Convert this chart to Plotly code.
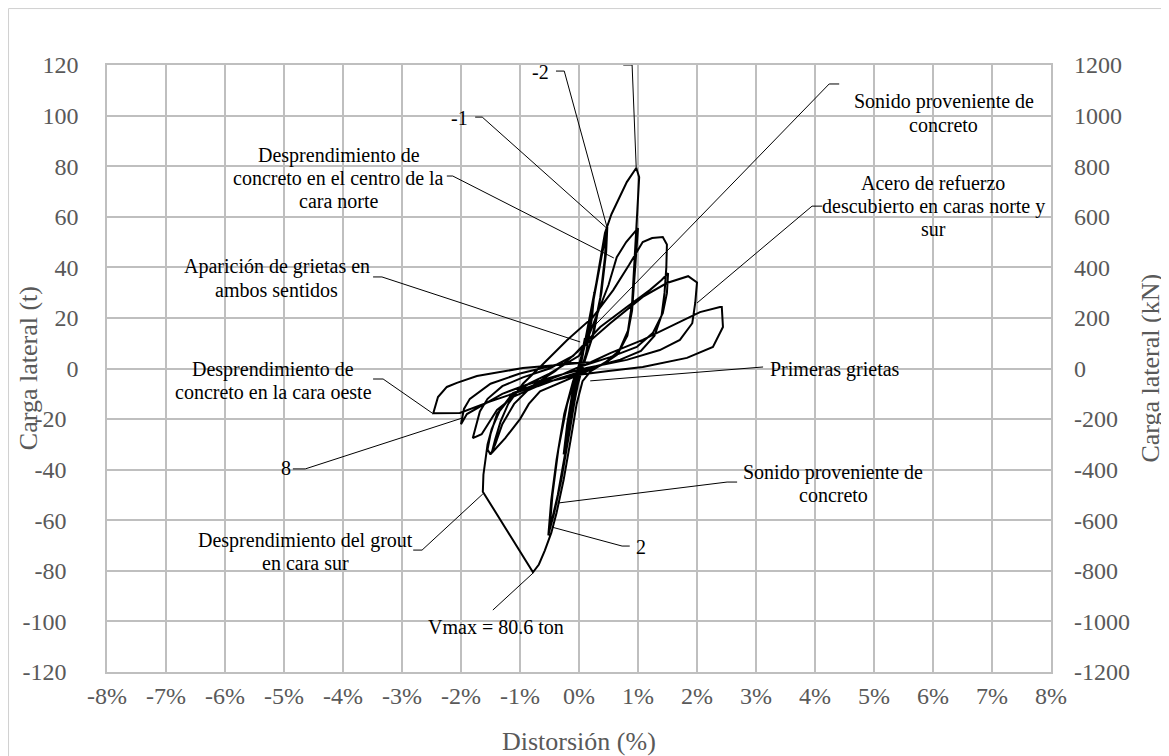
import plotly.graph_objects as go

# ---- hysteresis data: drift (%) vs lateral load (t), one list per cycle ----
cycle_01 = [(0.0, 0.0), (0.04, 5), (0.1, 12), (0.07, 6), (0.02, 0), (-0.04, -6),
            (-0.1, -13), (-0.07, -6), (-0.02, 0)]
cycle_025 = [(0.08, 8), (0.18, 20), (0.26, 30), (0.22, 20), (0.12, 6), (0.03, -1),
             (-0.08, -10), (-0.18, -24), (-0.26, -34), (-0.2, -22), (-0.1, -8), (0.0, 1)]
cycle_05a = [(0.1, 10), (0.22, 25), (0.35, 40), (0.48, 56), (0.46, 46), (0.38, 30),
             (0.25, 14), (0.1, 3), (0.0, -4), (-0.1, -16), (-0.22, -32), (-0.36, -50),
             (-0.52, -66), (-0.47, -52), (-0.38, -36), (-0.25, -18), (-0.1, -5), (0.02, 2)]
cycle_05b = [(0.12, 11), (0.25, 28), (0.38, 44), (0.46, 53), (0.44, 44), (0.36, 28),
             (0.22, 12), (0.08, 2), (-0.04, -8), (-0.16, -25), (-0.3, -44), (-0.42, -57),
             (-0.5, -64), (-0.45, -50), (-0.35, -32), (-0.2, -14), (-0.06, -3), (0.03, 3)]
cycle_1a = [(0.14, 14), (0.28, 32), (0.38, 46), (0.44, 53.6), (0.55, 61), (0.66, 66.6),
            (0.81, 73.7), (0.97, 79.3), (1.02, 75.7), (0.99, 63), (0.96, 50), (0.93, 38),
            (0.9, 26), (0.83, 15), (0.68, 7), (0.45, 2.5), (0.2, -1), (0.06, -5),
            (-0.04, -14), (-0.14, -28), (-0.26, -44), (-0.38, -57), (-0.47, -65),
            (-0.58, -72), (-0.68, -77.5), (-0.78, -80.6), (-1.63, -48.7), (-1.62, -42),
            (-1.59, -36), (-1.55, -30), (-1.48, -24), (-1.35, -17), (-1.15, -11),
            (-0.85, -6), (-0.5, -2), (-0.2, 2), (0.0, 5)]
cycle_1b = [(0.15, 12), (0.32, 22), (0.5, 33), (0.64, 44), (0.8, 50), (1.0, 55.5),
            (0.97, 45), (0.93, 34), (0.9, 23), (0.82, 13), (0.65, 5.5), (0.4, 1.5),
            (0.15, -1), (-0.05, -3), (-0.35, -6), (-0.66, -9), (-0.85, -14), (-1.0, -20),
            (-1.25, -27.5), (-1.48, -33.4), (-1.42, -28), (-1.33, -21), (-1.2, -14),
            (-0.95, -6), (-0.6, 2), (-0.2, 11.3)]
cycle_15a = [(0.24, 20.4), (0.58, 31), (0.85, 41), (1.08, 50), (1.24, 51.6), (1.42, 52),
             (1.49, 49), (1.48, 40), (1.45, 30), (1.4, 21), (1.28, 13), (1.05, 7),
             (0.7, 3.5), (0.3, 1), (0.0, -1.5), (-0.35, -4), (-0.7, -7), (-1.1, -11),
             (-1.39, -16.4), (-1.55, -22), (-1.65, -26), (-1.8, -27.5), (-1.74, -22),
             (-1.68, -17), (-1.55, -12), (-1.3, -7), (-0.95, -3.5), (-0.5, 0), (-0.1, 5)]
cycle_15b = [(0.36, 16.4), (0.81, 24.3), (1.2, 31), (1.4, 35), (1.51, 37.7), (1.49, 29.8),
             (1.42, 21.9), (1.25, 14), (0.98, 8.5), (0.53, 4.5), (0.0, 0.6), (-0.3, -2.5),
             (-0.66, -5.7), (-1.12, -9.7), (-1.39, -18), (-1.5, -26), (-1.55, -32),
             (-1.5, -34), (-1.42, -30), (-1.3, -22), (-1.1, -14), (-0.8, -7), (-0.4, -1),
             (0.0, 7.3)]
cycle_2 = [(0.53, 17.9), (1.08, 28.3), (1.49, 33.8), (1.85, 36.5), (2.0, 34), (1.97, 25.9),
           (1.92, 17.9), (1.71, 11.3), (1.37, 7.3), (0.81, 3.4), (0.13, 0.2), (-0.4, -3),
           (-0.9, -6.5), (-1.3, -10), (-1.6, -14), (-1.9, -18), (-2.0, -22), (-1.95, -16),
           (-1.85, -12), (-1.5, -6), (-1.0, -2), (-0.3, 2), (0.2, 2.5)]
cycle_25 = [(0.53, 6.1), (1.08, 11.3), (1.66, 17.9), (2.05, 22.3), (2.39, 24.3),
            (2.42, 24.3), (2.44, 16.4), (2.27, 8.5), (1.83, 4.2), (1.08, 0.6), (0.5, -1),
            (0.0, -2.5), (-0.5, -5), (-1.0, -9), (-1.5, -13), (-2.02, -17.6),
            (-2.47, -17.7), (-2.39, -11.3), (-2.24, -7.3), (-2.07, -5.7), (-1.73, -3.0),
            (-0.95, 0.2), (-0.3, 1.5), (0.02, 2.2)]

cycles = [cycle_01, cycle_025, cycle_05a, cycle_05b, cycle_1a, cycle_1b,
          cycle_15a, cycle_15b, cycle_2, cycle_25]

# ---- callouts: text, text centre (drift %, load t), leader polyline ----
label_texts = ["-2", "-1", "Desprendimiento de\nconcreto en el centro de la\ncara norte",
               "Aparición de grietas en\nambos sentidos",
               "Desprendimiento de\nconcreto en la cara oeste", "8",
               "Desprendimiento del grout\nen cara sur", "Vmax = 80.6 ton", "2",
               "Sonido proveniente de\nconcreto", "Sonido proveniente de\nconcreto",
               "Acero de refuerzo\ndescubierto en caras norte y\nsur", "Primeras grietas"]
label_x = [-0.66, -2.02, -4.07, -5.12, -5.18, -4.97, -4.63, -1.41, 1.05, 4.31, 6.18, 6.0, 4.34]
label_y = [117.2, 99.0, 75.3, 35.6, -4.75, -39.3, -72.4, -102.2, -70.6, -45.5, 100.9, 64.2, -0.2]

leaders = [
    [(-0.39, 117.6), (-0.25, 117.6), (0.47, 56.3)],
    [(0.75, 120), (0.9, 120), (0.97, 79.3)],
    [(-1.76, 99.4), (-1.64, 99.4), (0.47, 55.5)],
    [(-2.24, 76.1), (-2.14, 76.1), (0.59, 43.7)],
    [(-3.49, 36.2), (-3.34, 36.2), (0.02, 10.5)],
    [(-3.49, -4.15), (-3.32, -4.15), (-2.49, -17.6)],
    [(-4.85, -39.7), (-4.64, -39.7), (-1.98, -19.6)],
    [(-2.81, -71.8), (-2.66, -71.8), (-1.63, -49.6)],
    [(-1.46, -95.5), (-0.78, -80.9)],
    [(0.86, -70.2), (0.73, -70.2), (-0.46, -62.7)],
    [(2.68, -44.9), (2.51, -44.9), (-0.36, -53.2)],
    [(4.41, 112.5), (4.24, 112.5), (0.19, 15.2)],
    [(4.12, 64.2), (3.95, 64.2), (2.0, 25.9)],
    [(3.12, 0.6), (0.19, -4.9)],
]

x_ticks = list(range(-8, 9))
y_ticks = list(range(-120, 121, 20))
y2_ticks = list(range(-1200, 1201, 200))

FONT = "Liberation Serif, Times New Roman, serif"
GRAY = "#595959"
GRID = "#bfbfbf"

drift = []
load = []
for cyc in cycles:
    drift += [p[0] for p in cyc]
    load += [p[1] for p in cyc]

fig = go.Figure()

for line in leaders:
    fig.add_trace(go.Scatter(x=[p[0] for p in line], y=[p[1] for p in line], mode="lines",
                             line=dict(color="black", width=1), hoverinfo="skip",
                             showlegend=False))

fig.add_trace(go.Scatter(x=drift, y=load, mode="lines", line=dict(color="black", width=2),
                         showlegend=False))

# invisible trace so the kN axis is drawn
fig.add_trace(go.Scatter(x=[0], y=[0], yaxis="y2", mode="markers", opacity=0,
                         hoverinfo="skip", showlegend=False))

for text, x, y in zip(label_texts, label_x, label_y):
    lines = text.split("\n")
    n = len(lines)
    for i, ln in enumerate(lines):
        fig.add_annotation(x=x, y=y, text=ln, showarrow=False, xanchor="center",
                           yanchor="middle", yshift=((n - 1) / 2 - i) * 23,
                           font=dict(family=FONT, size=20, color="black"))

# axis titles placed as paper annotations
fig.add_annotation(x=-0.083, y=0.5, xref="paper", yref="paper", text="Carga lateral (t)",
                   textangle=-90, showarrow=False, xanchor="center", yanchor="middle",
                   font=dict(family=FONT, size=26, color=GRAY))
fig.add_annotation(x=1.1049, y=0.5, xref="paper", yref="paper", text="Carga lateral (kN)",
                   textangle=-90, showarrow=False, xanchor="center", yanchor="middle",
                   font=dict(family=FONT, size=26, color=GRAY))
fig.add_annotation(x=0.5, y=-0.1137, xref="paper", yref="paper", text="Distorsión (%)",
                   showarrow=False, xanchor="center", yanchor="middle",
                   font=dict(family=FONT, size=26, color=GRAY))

fig.add_shape(type="rect", xref="paper", yref="paper", x0=-0.1043, x1=1.13, y0=-0.14, y1=1.093,
              line=dict(color="#d0d0d0", width=1), layer="below")

# the page body adds an 8 px offset, so the figure is 8 px smaller than the window
fig.update_layout(
    width=1161, height=748,
    margin=dict(l=99, r=118, t=57, b=84),
    paper_bgcolor="white", plot_bgcolor="white",
    font=dict(family=FONT, size=24, color=GRAY),
    xaxis=dict(range=[-8, 8], tickvals=x_ticks, ticktext=[f"{v}%" for v in x_ticks],
               showgrid=True, gridcolor=GRID, gridwidth=1.5, zeroline=False,
               showline=True, mirror=True, linecolor=GRID, linewidth=1.5,
               ticks="", ticklabelstandoff=1),
    yaxis=dict(range=[-120, 120], tickvals=y_ticks,
               ticktext=[f"{v}\u00a0\u00a0" if v < 0 else f"{v}" for v in y_ticks],
               showgrid=True, gridcolor=GRID, gridwidth=1.5, zeroline=False,
               showline=True, mirror=True, linecolor=GRID, linewidth=1.5,
               ticks="", ticklabelstandoff=22),
    yaxis2=dict(range=[-1200, 1200], tickvals=y2_ticks, ticktext=[str(v) for v in y2_ticks],
                overlaying="y", side="right", showgrid=False, zeroline=False,
                showline=False, ticks="", ticklabelstandoff=22),
)

fig.write_html("out.html")
